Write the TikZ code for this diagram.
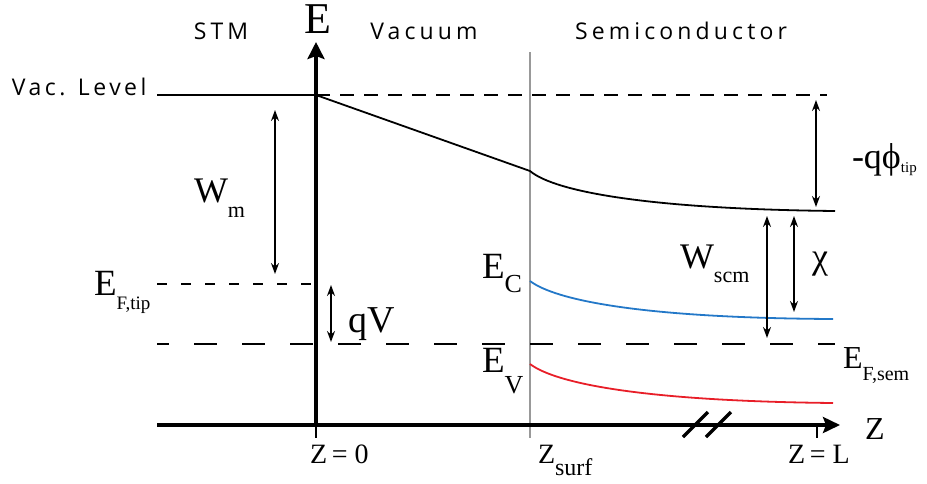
\documentclass[tikz,border=0pt]{standalone}
\usepackage{fontspec}
\setmainfont{Liberation Serif}
\newfontfamily\hsans[LetterSpace=18]{Open Sans}
\newfontfamily\hsansb[LetterSpace=15]{Open Sans}
\usetikzlibrary{arrows.meta}
\newcommand\fs[1]{\fontsize{#1}{#1}\selectfont}
\newcommand\subl[3]{\raisebox{-#1pt}{\fs{#2}#3}}
\definecolor{ecblue}{RGB}{35,120,200}
\definecolor{evred}{RGB}{232,30,40}
\begin{document}
\begin{tikzpicture}[x=1pt,y=-1pt,inner sep=0pt,outer sep=0pt,
  head/.style={font=\hsans\fs{23}},
  lab/.style={anchor=base west},
  level/.style={line width=1.8pt},
  axisline/.style={line width=4pt},
  tickline/.style={line width=1.5pt},
  dbl/.style={line width=1.6pt,{Stealth[length=11pt,width=8pt]}-{Stealth[length=11pt,width=8pt]}},
  shortdash/.style={line width=1.8pt,dash pattern=on 10pt off 14pt},
  meddash/.style={line width=1.8pt,dash pattern=on 14pt off 10pt},
  longdash/.style={line width=2pt,dash pattern=on 23pt off 25pt,dash phase=11pt}]
\useasboundingbox (0,0) rectangle (927,483);
% coordinates
\coordinate (O) at (316,425);
\coordinate (Etop) at (316,42);
\coordinate (Zleft) at (157,425);
\coordinate (Zright) at (840,425);
\coordinate (surfTop) at (530,52);
\coordinate (surfBot) at (530,438);
\coordinate (t0) at (316,438);
\coordinate (tL) at (817,425);
\coordinate (tLb) at (817,438);
\coordinate (vacL) at (157,95);
\coordinate (vacO) at (316,95);
\coordinate (vacR) at (827,95);
\coordinate (vacS) at (530,171);
\coordinate (vacE) at (835,211);
\coordinate (tipL) at (157,284);
\coordinate (tipR) at (316,284);
\coordinate (semL) at (157,344);
\coordinate (semR) at (835,344);
\coordinate (ecS) at (530,281);
\coordinate (ecE) at (833,319);
\coordinate (evS) at (530,364);
\coordinate (evE) at (833,403);
\coordinate (b1a) at (683,437);
\coordinate (b1b) at (708,412);
\coordinate (b2a) at (706,437);
\coordinate (b2b) at (731,412);
\coordinate (wmT) at (275,110);
\coordinate (wmB) at (275,274);
\coordinate (qvT) at (331,285);
\coordinate (qvB) at (331,342);
\coordinate (phT) at (816,100);
\coordinate (phB) at (816,207);
\coordinate (wsT) at (767,216);
\coordinate (wsB) at (767,338);
\coordinate (chT) at (794,216);
\coordinate (chB) at (794,312);
% surface line
\draw[line width=1.5pt,black!40] (surfTop) -- (surfBot);
% levels
\draw[level] (vacL) -- (vacO);
\draw[meddash] (vacO) -- (vacR);
\draw[level] (vacO) -- (vacS) .. controls (555,192) and (650,209) .. (vacE);
\draw[shortdash] (tipL) -- (tipR);
\draw[longdash] (semL) -- (semR);
\draw[level,ecblue] (ecS) .. controls (555,300) and (640,318) .. (ecE);
\draw[level,evred] (evS) .. controls (555,383) and (640,401) .. (evE);
% axes
\draw[axisline,-{Stealth[length=17pt,width=17pt,inset=3pt]}] (O) -- (Etop);
\draw[axisline,-{Stealth[length=17pt,width=16pt,inset=3pt]}] (Zleft) -- (Zright);
\draw[tickline] (O) -- (t0);
\draw[tickline] (tL) -- (tLb);
\draw[line width=3.5pt] (b1a) -- (b1b);
\draw[line width=3.5pt] (b2a) -- (b2b);
% arrows
\draw[dbl] (wmT) -- (wmB);
\draw[dbl] (qvT) -- (qvB);
\draw[dbl] (phT) -- (phB);
\draw[dbl] (wsT) -- (wsB);
\draw[dbl] (chT) -- (chB);
% headings
\node[head] (stm) at (221,31) {STM};
\node[head] (vac) at (424,31) {Vacuum};
\node[head] (semi) at (681,31) {Semiconductor};
\node[font=\hsansb\fs{23},anchor=west] (vl) at (12,87) {Vac. Level};
% labels
\node[font=\fs{44},anchor=base] (E) at (318,33) {E};
\node[lab] (Wm) at (194,202) {\fs{36}W\subl{15}{22}{m}};
\node[lab] (Eft) at (94,295) {\fs{37}E\subl{14}{19}{F,tip}};
\node[lab] (qV) at (348,332) {\fs{38}qV};
\node[lab] (Ec) at (482,278) {\fs{37}E\subl{14}{26}{C}};
\node[lab] (Ev) at (482,372) {\fs{37}E\subl{21}{26}{V}};
\node[lab] (Ws) at (680,268) {\fs{36}W\subl{14}{22}{scm}};
\node[lab] (chi) at (812,268) {\fs{36}χ};
\node[lab] (Efs) at (843,368) {\fs{32}E\subl{12}{20}{F,sem}};
\node[lab] (phi) at (852,168) {\fs{36}-qϕ\subl{4}{15}{tip}};
\node[lab] (z0) at (310,463) {\fs{28}Z\,= 0};
\node[lab] (zs) at (538,463) {\fs{28}Z\subl{12}{24}{surf}};
\node[lab] (zL) at (788,463) {\fs{28}Z\,= L};
\node[lab] (Z) at (865,439) {\fs{32}Z};
\end{tikzpicture}
\end{document}
